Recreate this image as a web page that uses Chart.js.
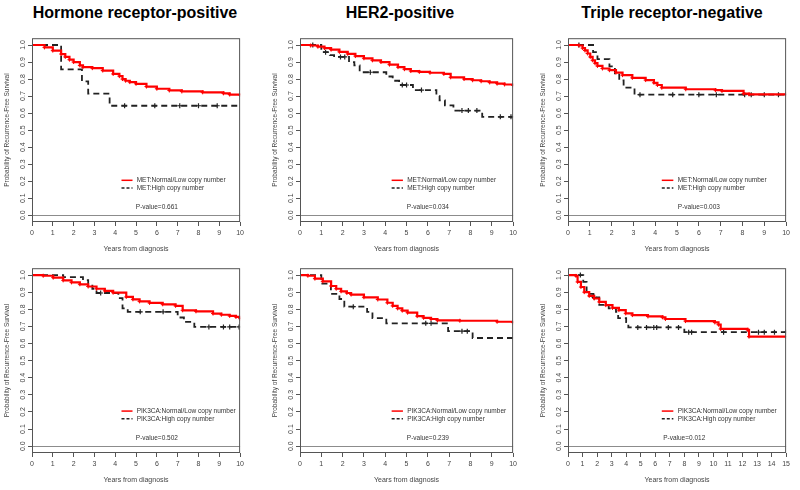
<!DOCTYPE html>
<html>
<head>
<meta charset="utf-8">
<script src="https://cdn.jsdelivr.net/npm/chart.js@4.4.1/dist/chart.umd.min.js"></script>
<style>
  body { margin: 0; background: #fff; width: 800px; height: 490px; position: relative; overflow: hidden; font-family: "Liberation Sans", Arial, sans-serif; }
  .ttl { position: absolute; top: 4px; font-weight: bold; font-size: 16px; transform: translateX(-50%); white-space: nowrap; color: #000; }
  canvas { position: absolute; }
</style>
</head>
<body>
<div class="ttl" style="left:135px">Hormone receptor-positive</div>
<div class="ttl" style="left:400px">HER2-positive</div>
<div class="ttl" style="left:672px">Triple receptor-negative</div>
<canvas id="c1"></canvas>
<canvas id="c2"></canvas>
<canvas id="c3"></canvas>
<canvas id="c4"></canvas>
<canvas id="c5"></canvas>
<canvas id="c6"></canvas>
<script>
// tick labels
const xTicks10 = [0, 1, 2, 3, 4, 5, 6, 7, 8, 9, 10];
const xTicks15 = [0, 1, 2, 3, 4, 5, 6, 7, 8, 9, 10, 11, 12, 13, 14, 15];
const yTicks = [0, 0.1, 0.2, 0.3, 0.4, 0.5, 0.6, 0.7, 0.8, 0.9, 1.0];

// MET, hormone receptor-positive
const metHrLow = [[0,1],[0.6,0.986],[1.0,0.967],[1.4,0.947],[1.6,0.93],[1.8,0.914],[2.0,0.9],[2.3,0.88],[2.45,0.87],[2.9,0.864],[3.4,0.85],[3.9,0.83],[4.2,0.817],[4.35,0.8],[4.5,0.79],[4.7,0.782],[5.0,0.772],[5.5,0.756],[6.0,0.743],[6.6,0.733],[7.2,0.727],[8.2,0.722],[9.2,0.716],[9.5,0.709],[10,0.707]];
const metHrHigh = [[0,1],[1.4,0.857],[2.4,0.786],[2.7,0.714],[3.73,0.643],[10,0.643]];
const metHrCens = [[4.45,0.643],[5.9,0.643],[7.1,0.643],[8.0,0.643],[8.9,0.643]];

// MET, HER2-positive
const metHer2Low = [[0,1],[0.5,0.997],[0.84,0.99],[1.15,0.982],[1.46,0.973],[1.85,0.96],[2.24,0.948],[2.6,0.935],[3.0,0.922],[3.4,0.91],[3.8,0.9],[4.2,0.885],[4.6,0.87],[4.9,0.858],[5.2,0.847],[5.6,0.842],[6.1,0.837],[6.75,0.83],[7.07,0.81],[7.7,0.8],[8.1,0.793],[8.5,0.787],[8.9,0.78],[9.25,0.773],[9.6,0.768],[10,0.763]];
const metHer2High = [[0,1],[1.0,0.958],[1.4,0.94],[1.6,0.93],[2.3,0.9],[2.55,0.88],[2.8,0.84],[4.05,0.815],[4.35,0.79],[4.65,0.765],[5.3,0.735],[6.4,0.7],[6.55,0.675],[6.8,0.645],[7.2,0.615],[8.55,0.578],[10,0.578]];
const metHer2Cens = [[0.6,1],[1.2,0.958],[1.9,0.93],[2.1,0.93],[3.3,0.84],[4.8,0.765],[5.0,0.765],[5.7,0.735],[7.6,0.615],[7.9,0.615],[8.3,0.615],[9.4,0.578],[9.9,0.578]];

// MET, triple receptor-negative
const metTnLow = [[0,1],[0.5,0.997],[0.67,0.982],[0.78,0.968],[0.9,0.95],[1.02,0.93],[1.13,0.91],[1.24,0.893],[1.35,0.877],[1.58,0.862],[1.9,0.852],[2.2,0.838],[2.5,0.823],[2.95,0.807],[3.56,0.794],[3.94,0.778],[4.1,0.765],[4.3,0.749],[5.4,0.74],[6.76,0.735],[7.06,0.73],[8.05,0.714],[8.3,0.71],[10,0.71]];
const metTnHigh = [[0,1],[1.15,0.958],[1.35,0.917],[1.9,0.875],[2.15,0.833],[2.35,0.792],[2.55,0.75],[3.05,0.708],[10,0.708]];
const metTnCens = [[0.5,1],[3.3,0.708],[4.8,0.708],[6.0,0.708],[6.8,0.708],[8.1,0.708],[8.4,0.708],[9.0,0.708],[9.65,0.708]];

// PIK3CA, hormone receptor-positive
const pikHrLow = [[0,1],[0.54,0.996],[1.02,0.985],[1.5,0.969],[1.9,0.957],[2.3,0.946],[2.7,0.933],[3.1,0.92],[3.5,0.908],[3.9,0.897],[4.53,0.872],[4.85,0.858],[5.17,0.846],[5.65,0.837],[6.28,0.829],[6.9,0.82],[7.24,0.794],[7.88,0.788],[8.7,0.775],[9.1,0.768],[9.5,0.761],[9.8,0.755],[10,0.745]];
const pikHrHigh = [[0,1],[1.5,0.988],[2.45,0.97],[2.7,0.945],[2.9,0.92],[3.1,0.895],[4.15,0.865],[4.35,0.805],[4.6,0.785],[7.0,0.752],[7.3,0.726],[7.8,0.697],[10,0.697]];
const pikHrCens = [[3.3,0.895],[5.2,0.785],[6.3,0.785],[8.5,0.697],[9.2,0.697],[9.5,0.697],[9.95,0.697]];

// PIK3CA, HER2-positive
const pikHer2Low = [[0,1],[0.37,0.996],[0.7,0.979],[1.07,0.963],[1.46,0.936],[1.7,0.92],[1.93,0.905],[2.2,0.895],[2.4,0.886],[3.0,0.87],[3.65,0.857],[4.1,0.838],[4.35,0.82],[4.58,0.805],[4.8,0.792],[5.05,0.78],[5.5,0.76],[5.8,0.75],[6.15,0.743],[6.45,0.735],[7.5,0.733],[9.25,0.727],[10,0.722]];
const pikHer2High = [[0,1],[1.0,0.95],[1.45,0.89],[1.85,0.86],[2.08,0.815],[3.15,0.785],[3.4,0.748],[4.05,0.718],[6.95,0.672],[8.1,0.632],[10,0.632]];
const pikHer2Cens = [[2.5,0.815],[5.9,0.718],[6.15,0.718],[7.6,0.672],[7.85,0.672]];

// PIK3CA, triple receptor-negative
const pikTnLow = [[0,1],[0.55,0.995],[0.66,0.96],[0.89,0.93],[1.12,0.9],[1.46,0.878],[1.8,0.863],[2.15,0.843],[2.6,0.824],[3.06,0.808],[3.5,0.795],[3.97,0.776],[4.43,0.766],[5.5,0.758],[6.5,0.753],[6.7,0.743],[8.08,0.731],[10.1,0.723],[10.35,0.71],[10.5,0.685],[12.35,0.68],[12.45,0.64],[15,0.64]];
const pikTnHigh = [[0,1],[1.05,0.96],[1.28,0.89],[1.75,0.87],[2.15,0.826],[2.8,0.805],[3.3,0.785],[3.45,0.748],[4.0,0.725],[4.15,0.694],[8.0,0.666],[15,0.666]];
const pikTnCens = [[0.85,1],[1.8,0.87],[4.8,0.694],[5.4,0.694],[5.9,0.694],[6.1,0.694],[6.9,0.694],[7.6,0.694],[8.3,0.666],[8.5,0.666],[10.7,0.666],[13.1,0.666],[13.5,0.666],[14.2,0.666],[15,0.666]];

const pValues = ['0.661', '0.034', '0.003', '0.502', '0.239', '0.012'];

Chart.defaults.font.family = '"Liberation Sans", Arial, sans-serif';
Chart.defaults.animation = false;

const pts = arr => arr.map(p => ({ x: p[0], y: p[1] }));

const kmDecor = {
  id: 'kmDecor',
  beforeDatasetsDraw(chart) {
    const { ctx, chartArea: a, scales: { y } } = chart;
    ctx.save();
    ctx.strokeStyle = '#8c8c8c';
    ctx.lineWidth = 1;
    const y0 = Math.round(y.getPixelForValue(0)) + 0.5;
    ctx.beginPath(); ctx.moveTo(a.left, y0); ctx.lineTo(a.right, y0); ctx.stroke();
    ctx.restore();
  },
  afterDraw(chart, args, o) {
    const { ctx, chartArea: a, scales: { x, y } } = chart;
    ctx.save();
    ctx.strokeStyle = '#555';
    ctx.lineWidth = 1;
    ctx.strokeRect(a.left + 0.5, a.top + 0.5, a.right - a.left - 1, a.bottom - a.top - 1);

    // rotated y tick labels, R style
    ctx.fillStyle = '#444';
    ctx.font = '7px "Liberation Sans"';
    ctx.textAlign = 'center';
    ctx.textBaseline = 'middle';
    yTicks.forEach(v => {
      ctx.save();
      ctx.translate(a.left - 9, y.getPixelForValue(v));
      ctx.rotate(-Math.PI / 2);
      ctx.fillText(v.toFixed(1), 0, 0);
      ctx.restore();
    });

    // legend inside plot
    const w = a.right - a.left;
    const lx0 = a.left + w * 0.43, lx1 = a.left + w * 0.483, tx = a.left + w * 0.503;
    const ds = chart.data.datasets;
    [[ds[0], 0.205, o.labels[0]], [ds[1], 0.16, o.labels[1]]].forEach(([d, v, txt]) => {
      const ry = y.getPixelForValue(v);
      ctx.strokeStyle = d.borderColor;
      ctx.lineWidth = 1.5;
      ctx.setLineDash(d.borderDash ? [3, 2] : []);
      ctx.beginPath(); ctx.moveTo(lx0, ry); ctx.lineTo(lx1, ry); ctx.stroke();
      ctx.setLineDash([]);
      ctx.fillStyle = '#333';
      ctx.font = '6.5px "Liberation Sans"';
      ctx.textAlign = 'left';
      ctx.fillText(txt, tx, ry);
    });
    ctx.textAlign = 'center';
    ctx.fillText('P-value=' + o.pValue, a.left + w * o.pFrac, y.getPixelForValue(0.048));
    ctx.restore();
  }
};

function makeChart(id, box, xt, low, high, cens, gene, pValue, pFrac) {
  const [L, T, R, B] = box;
  const cv = document.getElementById(id);
  cv.width = R - L + 38;
  cv.height = B - T + 38;
  cv.style.left = (L - 32) + 'px';
  cv.style.top = (T - 4) + 'px';
  new Chart(cv, {
    type: 'line',
    data: {
      datasets: [
        { data: pts(low), borderColor: '#ff0000', borderWidth: 2.2, stepped: true, fill: false,
          pointStyle: 'cross', pointRadius: 2, pointBorderColor: '#ff0000', pointBorderWidth: 1 },
        { data: pts(high), borderColor: '#222', borderWidth: 1.8, borderDash: [6, 4], stepped: true, fill: false, pointRadius: 0 },
        { type: 'scatter', data: pts(cens), showLine: false, pointStyle: 'cross', pointRadius: 2.5,
          pointBorderColor: '#222', pointBorderWidth: 1.2, borderColor: '#222' }
      ]
    },
    options: {
      responsive: false,
      layout: { padding: { top: 4, right: 6, left: 0, bottom: 0 } },
      plugins: {
        legend: { display: false },
        tooltip: { enabled: false },
        kmDecor: { labels: [gene + ':Normal/Low copy number', gene + ':High copy number'], pValue, pFrac }
      },
      scales: {
        x: {
          type: 'linear', min: 0, max: xt[xt.length - 1],
          afterBuildTicks: s => { s.ticks = xt.map(v => ({ value: v })); },
          afterFit: s => { s.height = 34; },
          ticks: { font: { size: 7 }, color: '#444', padding: 3, maxRotation: 0, autoSkip: false, callback: v => String(v) },
          grid: { drawOnChartArea: false, drawTicks: true, tickLength: 4, color: '#555' },
          border: { display: false },
          title: { display: true, text: 'Years from diagnosis', font: { size: 7 }, color: '#444', padding: { top: 0, bottom: 3 } }
        },
        y: {
          type: 'linear', min: -0.04, max: 1.04,
          afterBuildTicks: s => { s.ticks = yTicks.map(v => ({ value: v })); },
          afterFit: s => { s.width = 32; },
          ticks: { display: false },
          grid: { drawOnChartArea: false, drawTicks: true, tickLength: 4, color: '#555' },
          border: { display: false },
          title: { display: true, text: 'Probability of Recurrence-Free Survival', font: { size: 6.5 }, color: '#444', padding: { top: 3, bottom: 0 } }
        }
      }
    },
    plugins: [kmDecor]
  });
}

makeChart('c1', [32, 37, 241, 222], xTicks10, metHrLow, metHrHigh, metHrCens, 'MET', pValues[0], 0.6);
makeChart('c2', [300, 37, 514, 222], xTicks10, metHer2Low, metHer2High, metHer2Cens, 'MET', pValues[1], 0.6);
makeChart('c3', [568, 37, 787, 222], xTicks10, metTnLow, metTnHigh, metTnCens, 'MET', pValues[2], 0.6);
makeChart('c4', [32, 267, 241, 453], xTicks10, pikHrLow, pikHrHigh, pikHrCens, 'PIK3CA', pValues[3], 0.6);
makeChart('c5', [300, 267, 514, 453], xTicks10, pikHer2Low, pikHer2High, pikHer2Cens, 'PIK3CA', pValues[4], 0.6);
makeChart('c6', [568, 267, 787, 453], xTicks15, pikTnLow, pikTnHigh, pikTnCens, 'PIK3CA', pValues[5], 0.533);
</script>
</body>
</html>
